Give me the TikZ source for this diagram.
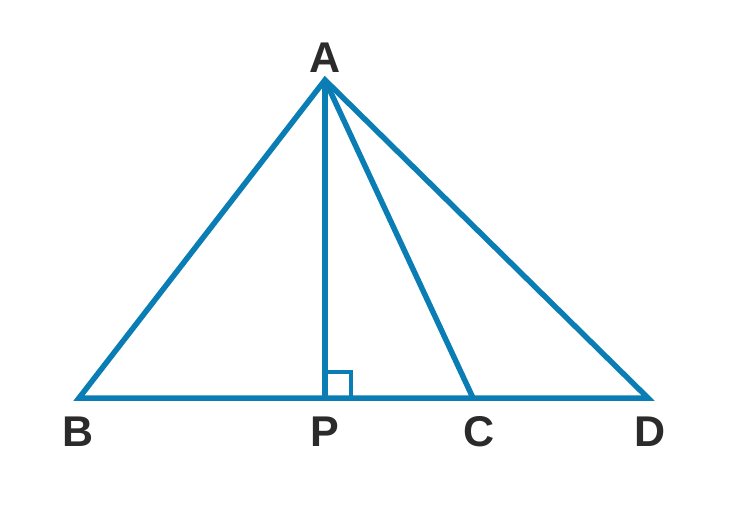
\documentclass[tikz,border=0pt]{standalone}
\usepackage{fontspec}
\setmainfont{Liberation Sans}
\definecolor{geoblue}{HTML}{0A7DB4}
\definecolor{lbl}{HTML}{2B2B2B}
\begin{document}
\begin{tikzpicture}[x=1pt,y=-1pt,
  seg/.style={draw=geoblue,line width=5.5pt,line join=miter},
  lab/.style={text=lbl,font=\fontsize{43}{43}\selectfont\bfseries,inner sep=0pt}]
\useasboundingbox (0,0) rectangle (751,508);
\coordinate (A) at (325,80);
\coordinate (B) at (79,398);
\coordinate (P) at (325,398);
\coordinate (C) at (473,398);
\coordinate (D) at (648,398);
\draw[seg] (B) -- (A) -- (D) -- cycle;
\draw[seg] (A) -- (P);
\draw[seg] (A) -- (C);
\draw[draw=geoblue,line width=4pt] (P) ++(0,-26) -- ++(26,0) -- ++(0,26);
\node[lab] (lA) at (325,58) {A};
\node[lab] (lB) at (78,432) {B};
\node[lab] (lP) at (325,432) {P};
\node[lab] (lC) at (479,432) {C};
\node[lab] (lD) at (650,432) {D};
\end{tikzpicture}
\end{document}
